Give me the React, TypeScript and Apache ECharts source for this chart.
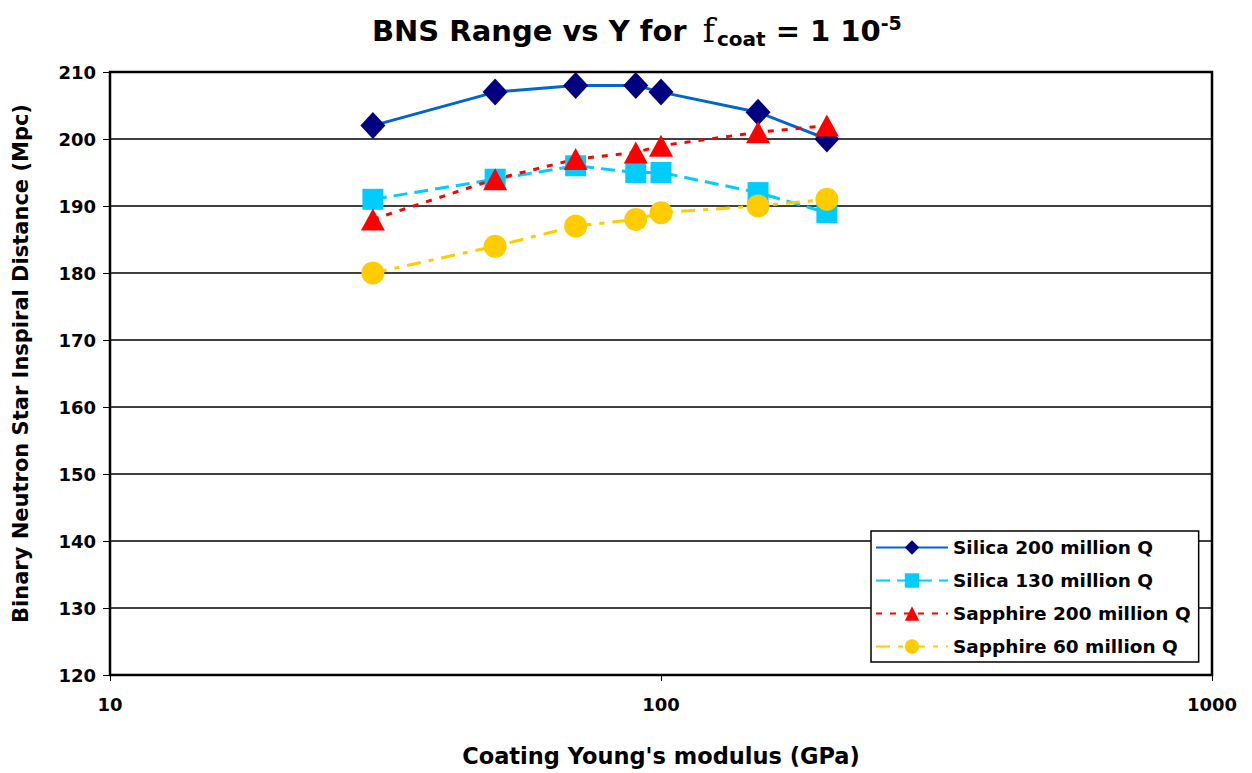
import React, { useEffect, useRef } from "react";
import * as echarts from "echarts";

const modulus = [30, 50, 70, 90, 100, 150, 200];
const silica200 = [202, 207, 208, 208, 207, 204, 200];
const silica130 = [191, 194, 196, 195, 195, 192, 189];
const sapphire200 = [188, 194, 197, 198, 199, 201, 202];
const sapphire60 = [180, 184, 187, 188, 189, 190, 191];
const seriesNames = [
  "Silica 200 million Q",
  "Silica 130 million Q",
  "Sapphire 200 million Q",
  "Sapphire 60 million Q",
];

const FONT = "DejaVu Sans, Verdana, sans-serif";

export default function App() {
  const ref = useRef<HTMLDivElement>(null);
  useEffect(() => {
    if (!ref.current) return;
    const chart = echarts.init(ref.current, null, { renderer: "svg" });
    const pairs = (ys: number[]) => modulus.map((x, i) => [x, ys[i]]);
    chart.setOption({
      animation: false,
      backgroundColor: "#ffffff",
      textStyle: { fontFamily: FONT },
      title: {
        text: "BNS Range vs Y for {f|f}{sub|coat}{n| = 1 10}{sup|-5}",
        left: 367,
        top: 7,
        textStyle: {
          fontFamily: FONT,
          fontSize: 29,
          fontWeight: "bold",
          color: "#000",
          rich: {
            f: { fontFamily: "DejaVu Serif, Liberation Serif, serif", fontSize: 33, fontWeight: "normal", color: "#000", padding: [0, 2, 0, 6] },
            sub: { fontFamily: FONT, fontSize: 20, fontWeight: "bold", color: "#000", padding: [17, 0, 0, 0] },
            n: { fontFamily: FONT, fontSize: 29, fontWeight: "bold", color: "#000" },
            sup: { fontFamily: FONT, fontSize: 19, fontWeight: "bold", color: "#000", padding: [0, 0, 16, 0] },
          },
        },
      },
      grid: { left: 110, right: 40, top: 72, bottom: 98, show: true, borderColor: "#000", borderWidth: 2.5, backgroundColor: "transparent" },
      legend: {
        orient: "vertical",
        left: 871,
        top: 531,
        padding: [7, 8, 6, 4],
        itemGap: 14,
        itemWidth: 72,
        itemHeight: 18,
        backgroundColor: "#fff",
        borderColor: "#000",
        borderWidth: 1.5,
        data: seriesNames,
        textStyle: { fontFamily: FONT, fontSize: 18.5, fontWeight: "bold", color: "#000" },
      },
      xAxis: {
        type: "log",
        logBase: 10,
        min: 10,
        max: 1000,
        name: "Coating Young's modulus (GPa)",
        nameLocation: "middle",
        nameGap: 69,
        nameTextStyle: { fontFamily: FONT, fontSize: 22.5, fontWeight: "bold", color: "#000" },
        axisLine: { lineStyle: { color: "#000", width: 2 } },
        axisTick: { show: true, inside: false, length: 6, lineStyle: { color: "#000", width: 1 } },
        axisLabel: {
          fontFamily: FONT, fontSize: 18, fontWeight: "bold", color: "#000", margin: 20,
          formatter: (v: number) => String(Math.round(v)),
        },
        splitLine: { show: false },
        minorTick: { show: false },
      },
      yAxis: {
        type: "value",
        min: 120,
        max: 210,
        interval: 10,
        name: "Binary Neutron Star Inspiral Distance (Mpc)",
        nameLocation: "middle",
        nameGap: 79,
        nameTextStyle: { fontFamily: FONT, fontSize: 21, fontWeight: "bold", color: "#000", padding: [0, 0, 0, 20] },
        axisLine: { show: true, lineStyle: { color: "#000", width: 2 } },
        axisTick: { show: true, length: 7, lineStyle: { color: "#000", width: 1 } },
        axisLabel: { fontFamily: FONT, fontSize: 18, fontWeight: "bold", color: "#000", margin: 14 },
        splitLine: { show: true, lineStyle: { color: "#000", width: 1.5 } },
      },
      series: [
        {
          name: seriesNames[0],
          type: "line",
          data: pairs(silica200),
          symbol: "diamond",
          symbolSize: [25, 27],
          lineStyle: { color: "#0066CC", width: 3, type: "solid" },
          itemStyle: { color: "#000080" },
        },
        {
          name: seriesNames[1],
          type: "line",
          data: pairs(silica130),
          symbol: "rect",
          symbolSize: 21,
          lineStyle: { color: "#00CCFF", width: 3, type: [14, 7] },
          itemStyle: { color: "#00CCFF" },
        },
        {
          name: seriesNames[2],
          type: "line",
          data: pairs(sapphire200),
          symbol: "triangle",
          symbolSize: [24, 22],
          lineStyle: { color: "#FF0000", width: 3, type: [6, 8] },
          itemStyle: { color: "#FF0000" },
        },
        {
          name: seriesNames[3],
          type: "line",
          data: pairs(sapphire60),
          symbol: "circle",
          symbolSize: 23,
          lineStyle: { color: "#FFCC00", width: 3, type: [14, 8, 5, 8] },
          itemStyle: { color: "#FFCC00" },
        },
      ],
    });
    return () => chart.dispose();
  }, []);
  return (
    <div
      ref={ref}
      style={{ position: "fixed", left: 0, top: 0, width: 1252, height: 773 }}
    />
  );
}
